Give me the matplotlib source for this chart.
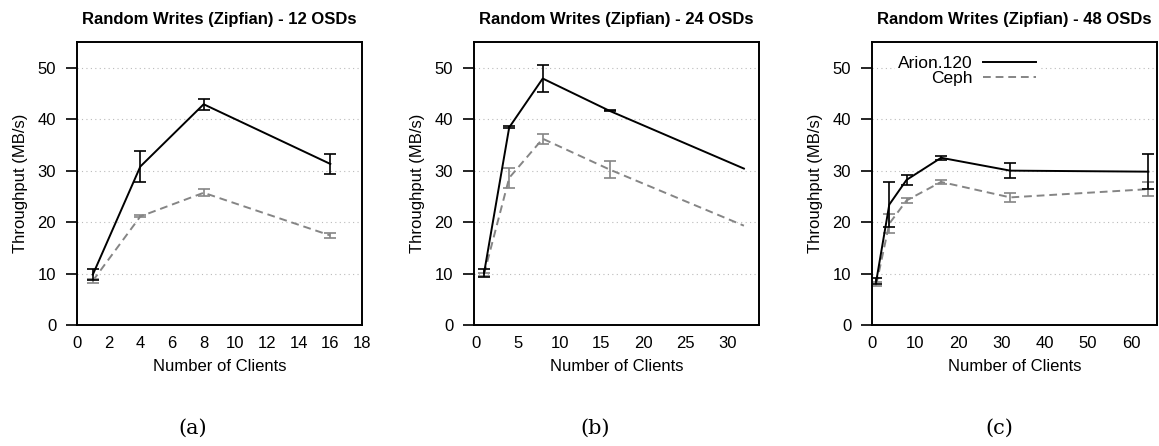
import matplotlib
matplotlib.use('Agg')
import matplotlib.pyplot as plt
from matplotlib.lines import Line2D

# data
titles = ["Random Writes (Zipfian) - 12 OSDs",
          "Random Writes (Zipfian) - 24 OSDs",
          "Random Writes (Zipfian) - 48 OSDs"]
captions = ["(a)", "(b)", "(c)"]

clients_12 = [1, 4, 8, 16]
arion_12 = [9.8, 30.8, 42.9, 31.3]
arion_12_err = [1.0, 3.0, 1.1, 2.0]
ceph_12 = [8.6, 21.1, 25.7, 17.4]
ceph_12_err = [0.4, 0.2, 0.7, 0.4]

clients_24 = [1, 4, 8, 16, 32]
arion_24 = [10.1, 38.4, 47.9, 41.6, 30.4]
arion_24_err = [0.8, 0.2, 2.7, 0.1, 0.0]
ceph_24 = [9.9, 28.6, 36.2, 30.2, 19.3]
ceph_24_err = [0.3, 1.9, 1.0, 1.7, 0.0]

clients_48 = [1, 4, 8, 16, 32, 64]
arion_48 = [8.6, 23.4, 28.2, 32.5, 30.0, 29.8]
arion_48_err = [0.6, 4.3, 1.0, 0.4, 1.4, 3.4]
ceph_48 = [7.9, 19.7, 24.2, 27.8, 24.8, 26.4]
ceph_48_err = [0.4, 1.9, 0.4, 0.4, 0.9, 1.4]

panels = [
    (clients_12, arion_12, arion_12_err, ceph_12, ceph_12_err, (0, 18), [0, 2, 4, 6, 8, 10, 12, 14, 16, 18]),
    (clients_24, arion_24, arion_24_err, ceph_24, ceph_24_err, (-0.2, 33.8), [0, 5, 10, 15, 20, 25, 30]),
    (clients_48, arion_48, arion_48_err, ceph_48, ceph_48_err, (0, 66), [0, 10, 20, 30, 40, 50, 60]),
]

plt.rcParams['font.family'] = ['Liberation Sans', 'DejaVu Sans']

fig = plt.figure(figsize=(11.59, 4.46), dpi=100)

lefts = [77, 474, 872]
caption_x = [193, 595, 999]
ceph_color = '#858585'
ceph_dash = (0, (4, 2.5))


def draw_series(ax, x, y, err, color, ls, z):
    ax.plot(x, y, color=color, linewidth=1.4, linestyle=ls, zorder=z)
    # only draw error bars that are actually there
    xe = [xx for xx, e in zip(x, err) if e > 0]
    ye = [yy for yy, e in zip(y, err) if e > 0]
    ee = [e for e in err if e > 0]
    ax.errorbar(xe, ye, yerr=ee, fmt='none', ecolor=color, capsize=4,
                elinewidth=1.2, capthick=1.2, zorder=z)


for i, (x, a, ae, c, ce, xlim, xt) in enumerate(panels):
    ax = fig.add_axes([lefts[i] / 1159, (446 - 325) / 446, 285 / 1159, 283 / 446])

    # Grid
    for yv in [10, 20, 30, 40, 50]:
        ax.axhline(yv, color='#bbbbbb', linestyle=(0, (1, 3)), linewidth=0.8, zorder=0)

    draw_series(ax, x, c, ce, ceph_color, ceph_dash, 2)
    draw_series(ax, x, a, ae, 'black', '-', 3)

    ax.set_xlim(*xlim)
    ax.set_ylim(0, 55)
    ax.set_xticks(xt)
    ax.set_yticks([0, 10, 20, 30, 40, 50])
    ax.tick_params(axis='x', length=0, labelsize=12, pad=8)
    ax.tick_params(axis='y', direction='out', length=8, width=1.2,
                   labelsize=12, pad=7)
    for s in ax.spines.values():
        s.set_linewidth(1.4)

    ax.set_title(titles[i], fontsize=12, fontweight='bold', pad=13)
    ax.set_xlabel('Number of Clients', fontsize=12, labelpad=6)
    ax.set_ylabel('Throughput (MB/s)', fontsize=12, labelpad=7)

    # caption below
    fig.text(caption_x[i] / 1159, 1 - 428 / 446, captions[i], ha='center',
             va='center', fontsize=15, family=['DejaVu Serif'])

    if i == 2:
        handles = [Line2D([], [], color='black', linewidth=1.4),
                   Line2D([], [], color=ceph_color, linewidth=1.4, linestyle=ceph_dash)]
        leg = ax.legend(handles, ['Arion.120', 'Ceph'], loc='upper left',
                        frameon=True, markerfirst=False, fontsize=12.5,
                        handlelength=3.0, handletextpad=0.6, borderpad=0.2,
                        labelspacing=0.0, bbox_to_anchor=(0.05, 0.995))
        leg.get_frame().set_edgecolor('white')
        leg.get_frame().set_facecolor('white')
        leg.get_frame().set_alpha(1)
        leg.get_frame().set_linewidth(0)
        for t in leg.get_texts():
            t.set_ha('right')

plt.savefig('out.png', dpi=100)
